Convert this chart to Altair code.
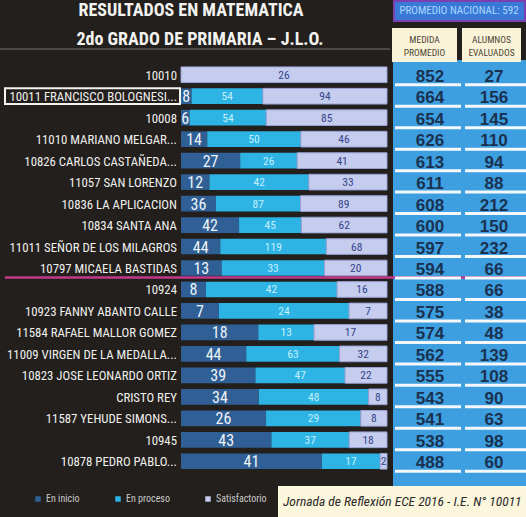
import altair as alt
import pandas as pd

schools = [
    "10010",
    "10011 FRANCISCO BOLOGNESI...",
    "10008",
    "11010 MARIANO MELGAR...",
    "10826 CARLOS CASTAÑEDA...",
    "11057 SAN LORENZO",
    "10836 LA APLICACION",
    "10834 SANTA ANA",
    "11011 SEÑOR DE LOS MILAGROS",
    "10797 MICAELA BASTIDAS",
    "10924",
    "10923 FANNY ABANTO CALLE",
    "11584 RAFAEL MALLOR GOMEZ",
    "11009 VIRGEN DE LA MEDALLA...",
    "10823 JOSE LEONARDO ORTIZ",
    "CRISTO REY",
    "11587 YEHUDE SIMONS...",
    "10945",
    "10878 PEDRO PABLO...",
]
en_inicio = [0, 8, 6, 14, 27, 12, 36, 42, 44, 13, 8, 7, 18, 44, 39, 34, 26, 43, 41]
en_proceso = [0, 54, 54, 50, 26, 42, 87, 45, 119, 33, 42, 24, 13, 63, 47, 48, 29, 37, 17]
satisfactorio = [26, 94, 85, 46, 41, 33, 89, 62, 68, 20, 16, 7, 17, 32, 22, 8, 8, 18, 2]
medida_promedio = [852, 664, 654, 626, 613, 611, 608, 600, 597, 594, 588, 575, 574, 562, 555, 543, 541, 538, 488]
alumnos_evaluados = [27, 156, 145, 110, 94, 88, 212, 150, 232, 66, 66, 38, 48, 139, 108, 90, 63, 98, 60]
categories = ["En inicio", "En proceso", "Satisfactorio"]
colors = ["#2f5f94", "#2db3e4", "#c5ccee"]
highlight_school = "10011 FRANCISCO BOLOGNESI..."
first_below_national = "10924"

title1 = "RESULTADOS EN MATEMATICA"
title2 = "2do GRADO DE PRIMARIA – J.L.O."
national = "PROMEDIO NACIONAL: 592"
footer = "Jornada de Reflexión ECE 2016 - I.E. N° 10011"

FONT = "Roboto Condensed, DejaVu Sans Condensed, sans-serif"
BOLD_FONT = "Liberation Sans, Roboto, sans-serif"

rows = []
for i, s in enumerate(schools):
    for j, (c, vals) in enumerate(zip(categories, [en_inicio, en_proceso, satisfactorio])):
        rows.append({"school": s, "cat": c, "order": j, "val": vals[i]})
long_df = pd.DataFrame(rows)
table_df = pd.DataFrame({"school": schools, "prom": medida_promedio, "alum": alumnos_evaluados})
one = pd.DataFrame({"a": [0]})

TOP = 64
W, H = 526, 408


def ry(abs_y):
    return abs_y - TOP


ysc = alt.Y("school:N", sort=schools, axis=None,
            scale=alt.Scale(paddingInner=0.27, paddingOuter=0.135))
xsc = alt.Scale(domain=[-181 / 206, 345 / 206], nice=False, zero=False)

layers = []

# table background
layers.append(alt.Chart(one).mark_rect(color="#3d9fe0").encode(
    x=alt.value(393), x2=alt.value(526), y=alt.value(ry(60)), y2=alt.value(ry(486))))

# title rule
layers.append(alt.Chart(one).mark_rule(color="#5d5854", strokeWidth=1.5).encode(
    x=alt.value(0), x2=alt.value(390), y=alt.value(ry(49))))

bars_base = alt.Chart(long_df).transform_stack(
    stack="val", groupby=["school"], as_=["x0", "x1"], offset="normalize",
    sort=[alt.SortField("order", order="ascending")]
).transform_calculate(mid="(datum.x0 + datum.x1) / 2")

bars = bars_base.mark_bar().encode(
    x=alt.X("x0:Q", scale=xsc, axis=None),
    x2="x1:Q",
    y=ysc,
    color=alt.Color("cat:N", scale=alt.Scale(domain=categories, range=colors),
                    legend=alt.Legend(orient="none", legendX=33, legendY=ry(494),
                                      direction="horizontal", title=None,
                                      symbolType="square", symbolSize=30,
                                      labelColor="#c9c9c9", labelFontSize=10,
                                      labelFont=FONT, columnPadding=33,
                                      symbolStrokeWidth=0, labelOffset=3)),
    stroke=alt.condition(alt.datum.cat == "Satisfactorio", alt.value("#9aa2d4"), alt.value("transparent")),
    strokeWidth=alt.value(1),
)
layers.append(bars)

text_styles = {
    "En inicio": ("#eef3f8", 16),
    "En proceso": ("#c4f0fc", 11.5),
    "Satisfactorio": ("#34458a", 11.5),
}
for c in categories:
    col, sz = text_styles[c]
    layers.append(bars_base.transform_filter(
        (alt.datum.cat == c) & (alt.datum.val > 0)
    ).mark_text(color=col, fontSize=sz, font=FONT, baseline="middle", dy=1).encode(
        x=alt.X("mid:Q", scale=xsc, axis=None), y=ysc, text="val:Q"))

# row labels
layers.append(alt.Chart(table_df).mark_text(
    align="right", baseline="middle", color="#f0f0ee", fontSize=12.8, font=FONT, dy=1
).encode(x=alt.value(177), y=ysc, text="school:N"))

# highlight box
layers.append(alt.Chart(table_df).transform_filter(
    alt.datum.school == highlight_school
).mark_rect(fillOpacity=0, stroke="#f4f4f0", strokeWidth=2).encode(
    x=alt.value(5), x2=alt.value(180), y=ysc))

# national average separator
layers.append(alt.Chart(table_df).transform_filter(
    alt.datum.school == first_below_national
).mark_rule(color="#c2388a", strokeWidth=2.5, yOffset=-12).encode(
    x=alt.value(5), x2=alt.value(526), y=ysc))

# table strips and values
for x0, x1, xc, field in [(395, 461, 430, "prom"), (465, 526, 494, "alum")]:
    layers.append(alt.Chart(table_df).mark_rule(color="#f4f8fb", strokeWidth=3, yOffset=10).encode(
        x=alt.value(x0), x2=alt.value(x1), y=ysc))
    layers.append(alt.Chart(table_df).mark_text(
        color="#1b3150", fontSize=17, fontWeight="bold", font=BOLD_FONT, baseline="middle", dy=2
    ).encode(x=alt.value(xc), y=ysc, text=f"{field}:Q"))

# header boxes
for x0, x1, l1, l2 in [(392, 457, "MEDIDA", "PROMEDIO"), (462, 521, "ALUMNOS", "EVALUADOS")]:
    layers.append(alt.Chart(one).mark_rect(color="#fbf3d8").encode(
        x=alt.value(x0), x2=alt.value(x1), y=alt.value(ry(28)), y2=alt.value(ry(62))))
    for yy, t in [(40, l1), (53, l2)]:
        layers.append(alt.Chart(one).mark_text(
            color="#4a4636", fontSize=9.5, font=FONT, baseline="middle"
        ).encode(x=alt.value((x0 + x1) / 2), y=alt.value(ry(yy)), text=alt.value(t)))

# national average box
layers.append(alt.Chart(one).mark_rect(color="#3a78d8", stroke="#7a40b0", strokeWidth=2).encode(
    x=alt.value(394), x2=alt.value(525), y=alt.value(ry(1)), y2=alt.value(ry(21))))
layers.append(alt.Chart(one).mark_text(
    color="#a8d8ff", fontSize=11, font=FONT, baseline="middle"
).encode(x=alt.value(459), y=alt.value(ry(11)), text=alt.value(national)))

# titles
layers.append(alt.Chart(one).mark_text(
    color="#f2f2f0", fontSize=18, fontWeight="bold", font=FONT, baseline="alphabetic"
).encode(x=alt.value(191), y=alt.value(ry(16)), text=alt.value(title1)))
layers.append(alt.Chart(one).mark_text(
    color="#f2f2f0", fontSize=18, fontWeight="bold", font=FONT, baseline="alphabetic"
).encode(x=alt.value(200), y=alt.value(ry(45)), text=alt.value(title2)))

# footer
layers.append(alt.Chart(one).mark_rect(color="#fcf6dc").encode(
    x=alt.value(278), x2=alt.value(526), y=alt.value(ry(486)), y2=alt.value(ry(517))))
layers.append(alt.Chart(one).mark_text(
    color="#2a2a2a", fontSize=13.5, fontStyle="italic", font=FONT, align="left", baseline="middle"
).encode(x=alt.value(283), y=alt.value(ry(502)), text=alt.value(footer)))

chart = alt.layer(*layers).properties(
    width=W, height=H,
    padding={"left": 0, "top": TOP, "right": 0, "bottom": 517 - TOP - H},
    autosize=alt.AutoSizeParams(type="none"),
    background="#231f1c",
).configure_view(stroke=None)

chart.save("out.html", embed_options={"renderer": "svg", "actions": False})
